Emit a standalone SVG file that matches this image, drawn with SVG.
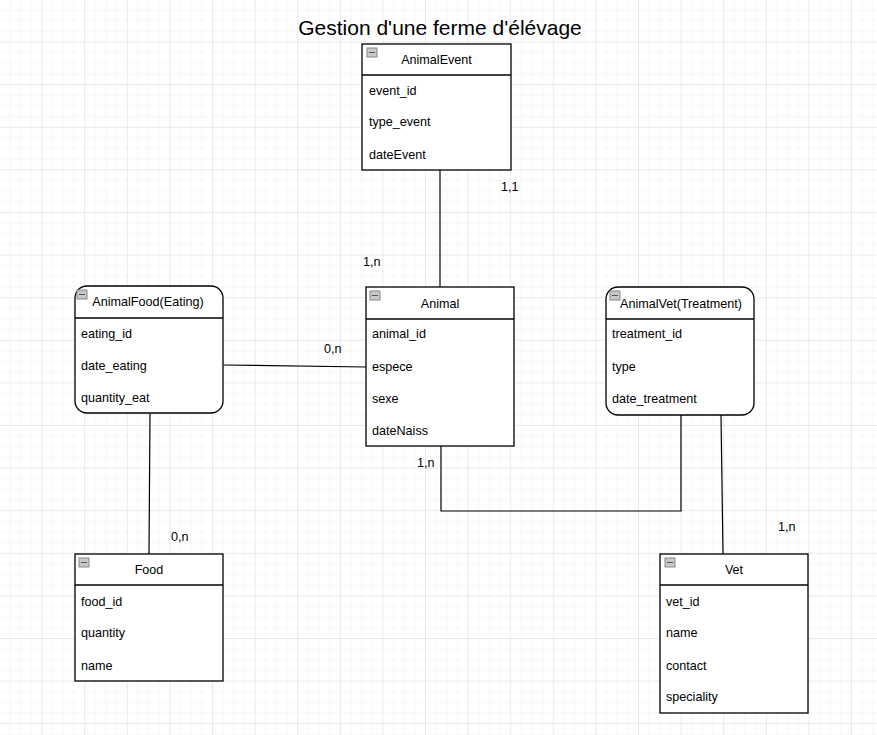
<svg xmlns="http://www.w3.org/2000/svg" width="877" height="735" viewBox="0 0 877 735">
<defs>
<pattern id="minor" width="10.65" height="10.65" patternUnits="userSpaceOnUse">
<path d="M10.65 0V10.65M0 10.65H10.65" fill="none" stroke="#eeeeee" stroke-width="1"/>
</pattern>
<pattern id="major" width="42.6" height="42.6" patternUnits="userSpaceOnUse">
<rect width="42.6" height="42.6" fill="url(#minor)"/>
<path d="M42.6 0V42.6M0 42.6H42.6" fill="none" stroke="#dddddd" stroke-width="1"/>
</pattern>
<g id="minus"><rect x="0" y="0" width="10" height="9" fill="#c8c8c8" stroke="#888" stroke-width="1"/><path d="M2 4.5H8" stroke="#555" stroke-width="1"/></g>
</defs>
<style>
.box{fill:#fff;stroke:#000;stroke-width:1.3}
.sep{stroke:#000;stroke-width:1.3}
text{font-family:"Liberation Sans",Arial,sans-serif;font-size:12.6px;fill:#000}
.hd{text-anchor:middle}
.lbl{font-size:12.6px}
.title{font-size:21px;text-anchor:middle}
.con{fill:none;stroke:#000;stroke-width:1.2}
</style>
<rect width="877" height="735" fill="#fff"/>
<rect width="877" height="735" fill="url(#major)"/>
<text class="title" x="440" y="35">Gestion d'une ferme d'élévage</text>
<g id="connectors">
<path class="con" d="M440 170V287"/>
<path class="con" d="M223.5 365L366 367"/>
<path class="con" d="M150 413.5L149 554"/>
<path class="con" d="M441 446V511H681V415"/>
<path class="con" d="M721 415L723 554"/>
</g>
<g id="labels">
<text class="lbl" x="501" y="191">1,1</text>
<text class="lbl" x="363" y="266">1,n</text>
<text class="lbl" x="324" y="353">0,n</text>
<text class="lbl" x="171" y="541">0,n</text>
<text class="lbl" x="417" y="467">1,n</text>
<text class="lbl" x="778" y="531">1,n</text>
</g>
<g id="AnimalEvent">
<rect class="box" x="362" y="44" width="149" height="126"/>
<line class="sep" x1="362" y1="75" x2="511" y2="75"/>
<use href="#minus" x="367" y="48"/>
<text class="hd" x="436.5" y="64">AnimalEvent</text>
<text x="369" y="95">event_id</text>
<text x="369" y="126">type_event</text>
<text x="369" y="159">dateEvent</text>
</g>
<g id="Animal">
<rect class="box" x="366" y="287" width="148" height="159"/>
<line class="sep" x1="366" y1="319" x2="514" y2="319"/>
<use href="#minus" x="370" y="291"/>
<text class="hd" x="440" y="308">Animal</text>
<text x="372" y="338">animal_id</text>
<text x="372" y="371">espece</text>
<text x="372" y="403">sexe</text>
<text x="372" y="435">dateNaiss</text>
</g>
<g id="AnimalFood">
<rect class="box" x="75" y="286" width="148" height="127" rx="12" ry="12"/>
<line class="sep" x1="75" y1="318" x2="223" y2="318"/>
<use href="#minus" x="77" y="290"/>
<text class="hd" x="148" y="306">AnimalFood(Eating)</text>
<text x="81" y="338">eating_id</text>
<text x="81" y="370">date_eating</text>
<text x="81" y="402">quantity_eat</text>
</g>
<g id="AnimalVet">
<rect class="box" x="606" y="287" width="148" height="128" rx="12" ry="12"/>
<line class="sep" x1="606" y1="319" x2="754" y2="319"/>
<use href="#minus" x="610" y="291"/>
<text class="hd" x="681" y="308">AnimalVet(Treatment)</text>
<text x="612" y="338">treatment_id</text>
<text x="612" y="371">type</text>
<text x="612" y="403">date_treatment</text>
</g>
<g id="Food">
<rect class="box" x="75" y="554" width="148" height="127"/>
<line class="sep" x1="75" y1="585" x2="223" y2="585"/>
<use href="#minus" x="79" y="558"/>
<text class="hd" x="149" y="574">Food</text>
<text x="81" y="606">food_id</text>
<text x="81" y="637">quantity</text>
<text x="81" y="670">name</text>
</g>
<g id="Vet">
<rect class="box" x="660" y="554" width="148" height="159"/>
<line class="sep" x1="660" y1="585" x2="808" y2="585"/>
<use href="#minus" x="665" y="558"/>
<text class="hd" x="734" y="574">Vet</text>
<text x="666" y="606">vet_id</text>
<text x="666" y="637">name</text>
<text x="666" y="670">contact</text>
<text x="666" y="701">speciality</text>
</g>
</svg>
